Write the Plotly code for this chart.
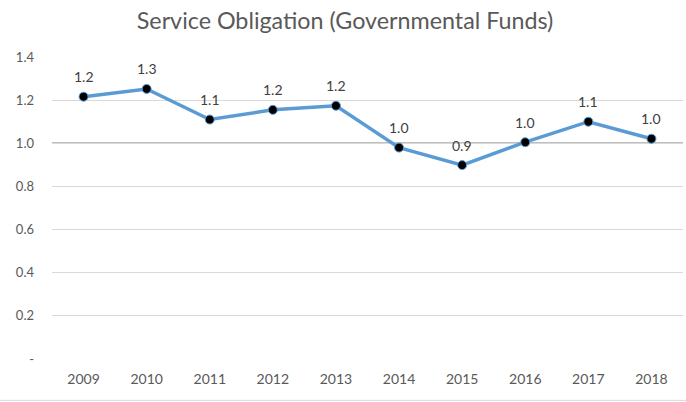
import plotly.graph_objects as go

years = ["2009", "2010", "2011", "2012", "2013", "2014", "2015", "2016", "2017", "2018"]
values = [1.216, 1.252, 1.110, 1.155, 1.174, 0.980, 0.899, 1.005, 1.100, 1.021]
labels = [f"{v:.1f}" for v in values]
ytick_vals = [0, 0.2, 0.4, 0.6, 0.8, 1.0, 1.2, 1.4]
ytick_text = ["-", "0.2", "0.4", "0.6", "0.8", "1.0", "1.2", "1.4"]

FONT = "Lato"

fig = go.Figure()
fig.add_trace(go.Scatter(
    x=years, y=values, mode="lines+markers",
    line=dict(color="#5B9BD5", width=3.5),
    marker=dict(color="black", size=9, line=dict(color="#5B9BD5", width=1)),
    cliponaxis=False,
    showlegend=False,
    hoverinfo="x+y",
))

# data labels: category index positions on the category axis
for i, (v, lab) in enumerate(zip(values, labels)):
    fig.add_annotation(x=i, y=v, xref="x", yref="y", text=lab, showarrow=False, yshift=20,
                       font=dict(family=FONT, size=14, color="#404040"))

fig.add_shape(type="line", xref="paper", yref="y", x0=0, x1=1, y0=1.0, y1=1.0,
              line=dict(color="#7F7F7F", width=1.5), layer="below")
fig.add_shape(type="line", xref="paper", yref="paper", x0=-0.09, x1=1.01, y0=-0.137, y1=-0.137,
              line=dict(color="#D9D9D9", width=1))

fig.update_layout(
    width=686, height=402,
    margin=dict(l=52, r=3, t=57, b=43),
    paper_bgcolor="white", plot_bgcolor="white",
    title=dict(text="Service Obligation (Governmental Funds)", x=0.503, xref="container",
               xanchor="center", y=0.948, yanchor="middle", yref="container",
               font=dict(family=FONT, size=23.3, color="#595959")),
    font=dict(family=FONT, size=13, color="#595959"),
    xaxis=dict(type="category", categoryorder="array", categoryarray=years,
               range=[-0.5, len(years) - 0.5],
               showgrid=False, showline=False, ticks="",
               ticklabelstandoff=10,
               tickfont=dict(family=FONT, size=14, color="#595959")),
    yaxis=dict(range=[0, 1.4], tickvals=ytick_vals, ticktext=ytick_text,
               showgrid=True, gridcolor="#D9D9D9", gridwidth=1, zeroline=False,
               showline=False, ticks="", ticklabelstandoff=17,
               tickfont=dict(family=FONT, size=13, color="#595959")),
)

fig.write_html("out.html", config={"displayModeBar": False},
               post_script="document.body.style.margin='0';")
